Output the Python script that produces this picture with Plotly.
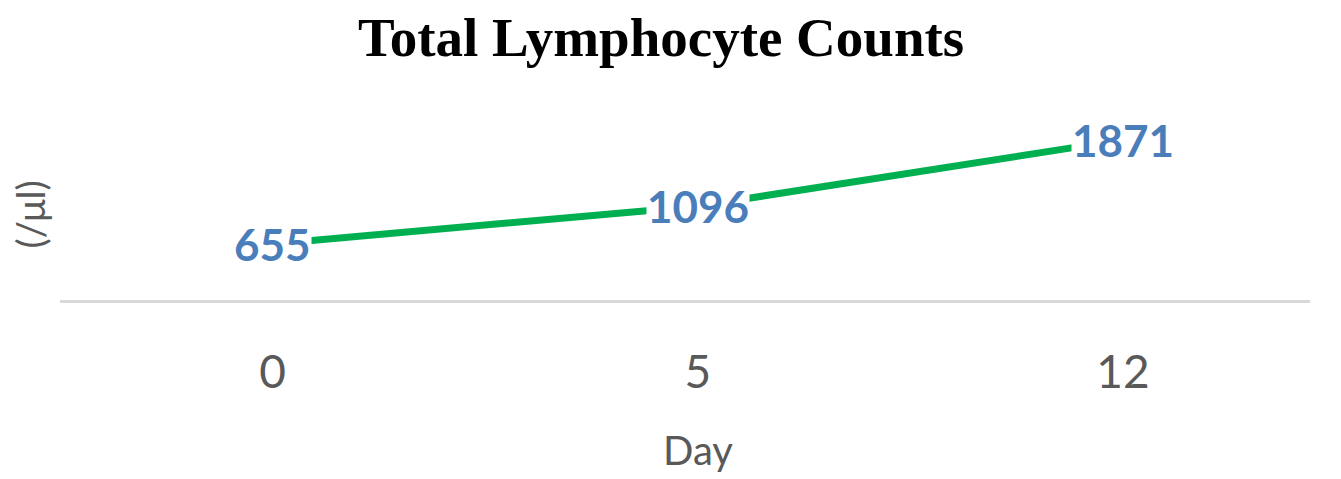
import plotly.graph_objects as go

days = ["0", "5", "12"]
counts = [655, 1096, 1871]
title_text = "Total Lymphocyte Counts"
x_title = "Day"
y_title = "(/μl)"

fig = go.Figure()
fig.add_trace(go.Scatter(
    x=days, y=counts, mode="lines",
    line=dict(color="#00B050", width=7),
    hoverinfo="skip", showlegend=False,
))

for i, c in enumerate(counts):
    fig.add_annotation(
        x=i, y=c, xref="x", yref="y", text=f"<b>{c}</b>",
        showarrow=False, bgcolor="white", borderpad=0,
        font=dict(family="Lato", size=44, color="#4A7EBB"),
        xanchor="center", yanchor="middle",
    )

fig.add_annotation(
    x=1, y=0, xref="x", yref="paper", yshift=-150, text=x_title,
    showarrow=False, font=dict(family="Lato", size=40, color="#595959"),
    xanchor="center", yanchor="middle",
)
fig.add_annotation(
    x=-0.024, y=0.40, xref="paper", yref="paper", text=y_title, textangle=-90,
    showarrow=False, font=dict(family="Lato", size=38, color="#595959"),
    xanchor="center", yanchor="middle",
)

fig.update_layout(
    width=1333, height=471,
    margin=dict(l=52, r=31, t=78, b=179),
    paper_bgcolor="white", plot_bgcolor="white",
    title=dict(
        text=f"<b>{title_text}</b>", x=0.490, xanchor="center",
        y=0.94, yanchor="middle",
        font=dict(family="Liberation Serif", size=55, color="black"),
    ),
    xaxis=dict(
        type="category", range=[-0.5, 2.44], automargin=False,
        showline=True, linecolor="#D9D9D9", linewidth=3,
        showgrid=False, zeroline=False, ticks="",
        tickfont=dict(family="Lato", size=46, color="#595959"),
        ticklabelstandoff=30,
    ),
    yaxis=dict(
        range=[0, 2500], showgrid=False, zeroline=False, automargin=False,
        showticklabels=False, showline=False, ticks="",
    ),
)

fig.write_html("out.html")
